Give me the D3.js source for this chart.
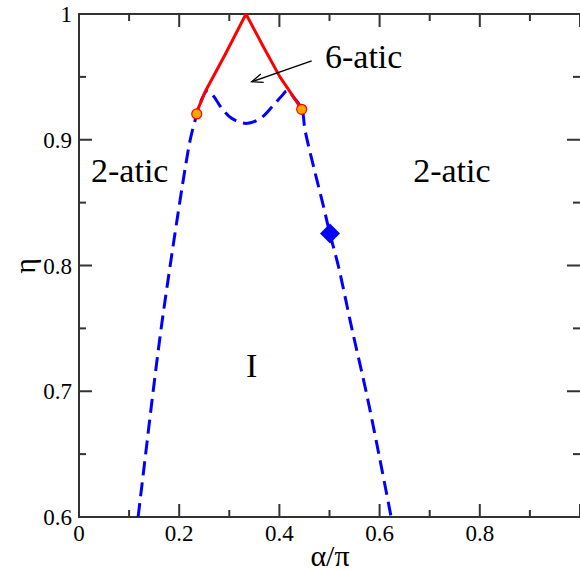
<!DOCTYPE html>
<html>
<head>
<meta charset="utf-8">
<title>Phase diagram</title>
<script src="https://d3js.org/d3.v7.min.js"></script>
<style>
  body {margin: 0; background: #fff;}
</style>
</head>
<body>
<svg id="chart" width="580" height="571"></svg>
<script>
// blue dashed boundary (alpha/pi, eta)
var blueLine = [
  [0.118, 0.600], [0.133, 0.650], [0.148, 0.700], [0.164, 0.750], [0.182, 0.800],
  [0.201, 0.850], [0.213, 0.880], [0.222, 0.900], [0.235, 0.920], [0.246, 0.933],
  [0.256, 0.939], [0.268, 0.935], [0.285, 0.925], [0.305, 0.917], [0.334, 0.913],
  [0.362, 0.917], [0.385, 0.926], [0.405, 0.935], [0.416, 0.939], [0.430, 0.933],
  [0.445, 0.924], [0.451, 0.908], [0.468, 0.879], [0.488, 0.847], [0.501, 0.825],
  [0.518, 0.799], [0.544, 0.751], [0.574, 0.698], [0.601, 0.645], [0.623, 0.600]
];
// red solid 6-atic boundaries
var redLeft = [[0.235, 0.9205], [0.238, 0.925], [0.2515, 0.938], [0.292, 0.968], [0.3333, 1.0]];
var redRight = [[0.3333, 1.0], [0.368, 0.974], [0.401, 0.950], [0.418, 0.940], [0.438, 0.928], [0.4445, 0.924]];
var orangePts = [[0.235, 0.9205], [0.4445, 0.9242]];
var diamondPts = [[0.501, 0.8255]];
var labels = [
  {t: "2-atic", x: 0.024, y: 0.8664, anchor: "start"},
  {t: "2-atic", x: 0.667, y: 0.8664, anchor: "start"},
  {t: "6-atic", x: 0.491, y: 0.957, anchor: "start"},
  {t: "I", x: 0.3447, y: 0.7113, anchor: "middle"}
];
var arrow = [[0.4645, 0.9628], [0.3447, 0.9461]];
var xTicks = [0, 0.2, 0.4, 0.6, 0.8];
var yTicks = [0.6, 0.7, 0.8, 0.9, 1];

var FONT = "'Liberation Serif', 'Times New Roman', Times, 'DejaVu Serif', serif";
var svg = d3.select("#chart");
var x = d3.scaleLinear().domain([0, 1]).range([79, 580]);
var y = d3.scaleLinear().domain([0.6, 1]).range([517, 14]);
var axisColor = "#333";

var minorX = d3.range(0, 1.0001, 0.1);
var minorY = d3.range(0.6, 1.0001, 0.05);

// frame
svg.append("rect").attr("x", 79).attr("y", 14).attr("width", 502).attr("height", 503)
  .attr("fill", "none").attr("stroke", axisColor).attr("stroke-width", 2);

var isMajor = function(v, step) { return Math.abs(v / step - Math.round(v / step)) < 1e-6; };

// ticks on all four sides, pointing in
minorX.forEach(function(v) {
  var len = isMajor(v, 0.2) ? 13 : 7;
  svg.append("line").attr("x1", x(v)).attr("x2", x(v)).attr("y1", 517).attr("y2", 517 - len)
    .attr("stroke", axisColor).attr("stroke-width", 2);
  svg.append("line").attr("x1", x(v)).attr("x2", x(v)).attr("y1", 14).attr("y2", 14 + len)
    .attr("stroke", axisColor).attr("stroke-width", 2);
});
minorY.forEach(function(v) {
  var len = isMajor(v, 0.1) ? 13 : 7;
  svg.append("line").attr("x1", 79).attr("x2", 79 + len).attr("y1", y(v)).attr("y2", y(v))
    .attr("stroke", axisColor).attr("stroke-width", 2);
  svg.append("line").attr("x1", 580).attr("x2", 580 - len).attr("y1", y(v)).attr("y2", y(v))
    .attr("stroke", axisColor).attr("stroke-width", 2);
});

svg.selectAll(".xl").data(xTicks).enter().append("text")
  .attr("x", d => x(d)).attr("y", 541).attr("text-anchor", "middle")
  .style("font-family", FONT).style("font-size", "23px")
  .text(d => d === 0 ? "0" : d3.format(".1f")(d));
svg.selectAll(".yl").data(yTicks).enter().append("text")
  .attr("x", 72).attr("y", d => y(d) + 8).attr("text-anchor", "end")
  .style("font-family", FONT).style("font-size", "23px")
  .text(d => d === 1 ? "1" : d3.format(".1f")(d));

// axis titles
svg.append("text").attr("x", 330).attr("y", 566).attr("text-anchor", "middle")
  .style("font-family", FONT).style("font-size", "30px").text("α/π");
svg.append("text").attr("transform", "translate(35,266) rotate(-90)").attr("text-anchor", "middle")
  .style("font-family", FONT).style("font-size", "30px").text("η");

var line = d3.line().x(d => x(d[0])).y(d => y(d[1])).curve(d3.curveCatmullRom.alpha(0.5));

svg.append("path").datum(blueLine).attr("d", line).attr("fill", "none")
  .attr("stroke", "#0000ff").attr("stroke-width", 3).attr("stroke-dasharray", "14,7");
[redLeft, redRight].forEach(function(seg) {
  svg.append("path").datum(seg).attr("d", d3.line().x(d => x(d[0])).y(d => y(d[1])))
    .attr("fill", "none").attr("stroke", "#ff0000").attr("stroke-width", 3)
    .attr("stroke-linejoin", "round");
});

svg.selectAll(".dot").data(orangePts).enter().append("circle")
  .attr("cx", d => x(d[0])).attr("cy", d => y(d[1])).attr("r", 5)
  .attr("fill", "#ffa500").attr("stroke", "#ff0000").attr("stroke-width", 1.2);
svg.selectAll(".dia").data(diamondPts).enter().append("path")
  .attr("transform", d => "translate(" + x(d[0]) + "," + y(d[1]) + ")")
  .attr("d", "M0,-10L10,0L0,10L-10,0Z").attr("fill", "#0000ff");

// arrow
var ax1 = x(arrow[0][0]), ay1 = y(arrow[0][1]), ax2 = x(arrow[1][0]), ay2 = y(arrow[1][1]);
svg.append("line").attr("x1", ax1).attr("y1", ay1).attr("x2", ax2).attr("y2", ay2)
  .attr("stroke", "#000").attr("stroke-width", 1.3);
var ang = Math.atan2(ay2 - ay1, ax2 - ax1), hl = 12, ha = 0.38;
svg.append("path")
  .attr("d", "M" + (ax2 - hl * Math.cos(ang - ha)) + "," + (ay2 - hl * Math.sin(ang - ha)) +
    "L" + ax2 + "," + ay2 + "L" + (ax2 - hl * Math.cos(ang + ha)) + "," + (ay2 - hl * Math.sin(ang + ha)))
  .attr("fill", "none").attr("stroke", "#000").attr("stroke-width", 1.3);

svg.selectAll(".lab").data(labels).enter().append("text")
  .attr("x", d => x(d.x)).attr("y", d => y(d.y)).attr("text-anchor", d => d.anchor)
  .style("font-family", FONT).style("font-size", "34px").text(d => d.t);
</script>
</body>
</html>
